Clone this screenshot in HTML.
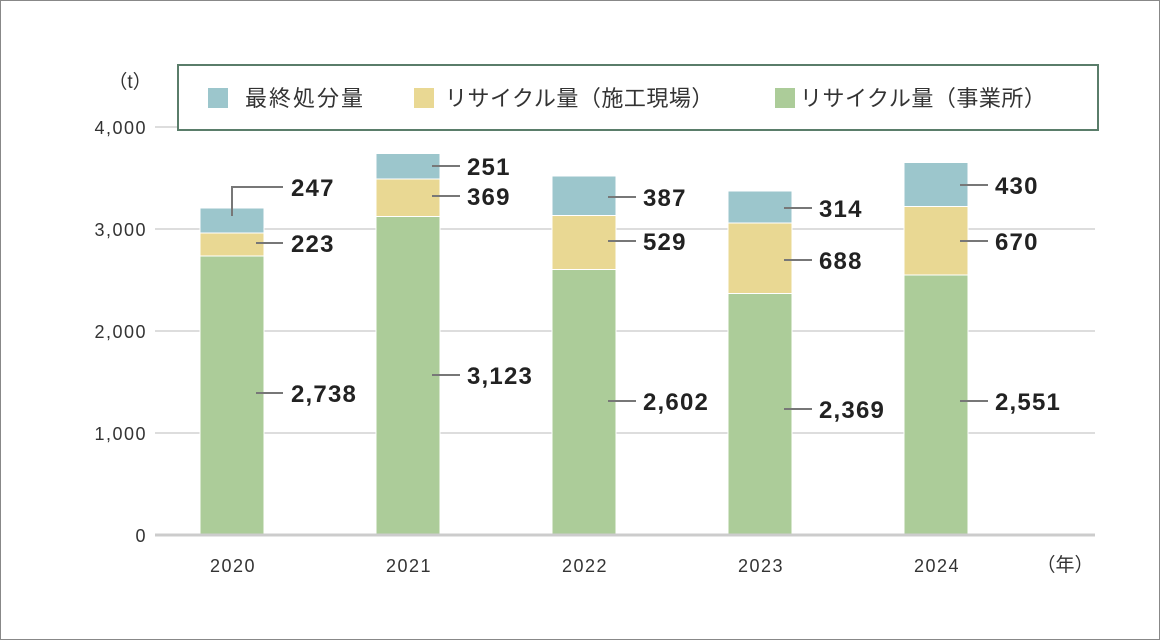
<!DOCTYPE html>
<html><head><meta charset="utf-8"><style>
body{margin:0;background:#fff}
svg{display:block}
text{font-family:"Liberation Sans","Noto Sans CJK JP",sans-serif}
</style></head><body>
<svg width="1160" height="640" xmlns="http://www.w3.org/2000/svg">
<rect x="0.5" y="0.5" width="1159" height="639" fill="#fff" stroke="#888"/>
<g stroke="#ddd" stroke-width="2">
<line x1="155" x2="1095" y1="127" y2="127"/>
<line x1="155" x2="1095" y1="229" y2="229"/>
<line x1="155" x2="1095" y1="331" y2="331"/>
<line x1="155" x2="1095" y1="433" y2="433"/>
</g>
<g font-size="18" fill="#333" text-anchor="end" letter-spacing="1.5">
<text x="147" y="134">4,000</text>
<text x="147" y="236">3,000</text>
<text x="147" y="338">2,000</text>
<text x="147" y="440">1,000</text>
<text x="147" y="542">0</text>
</g>
<text x="130" y="88" font-size="19" fill="#333" text-anchor="middle">（t）</text>
<rect x="178" y="65" width="920" height="65" fill="#fff" stroke="#5a7d6a" stroke-width="2"/>
<rect x="208" y="88" width="20" height="20" fill="#9cc6cc"/>
<text x="245" y="106" font-size="22" fill="#333" letter-spacing="2">最終処分量</text>
<rect x="414" y="88" width="20" height="20" fill="#e9d893"/>
<text x="445" y="106" font-size="22" fill="#333" letter-spacing="0.5">リサイクル量（施工現場）</text>
<rect x="775" y="88" width="20" height="20" fill="#accc99"/>
<text x="800" y="106" font-size="22" fill="#333" letter-spacing="0.5">リサイクル量（事業所）</text>
<g stroke="#fff" stroke-width="1">
<rect x="200" y="256" width="64" height="279" fill="#accc99"/>
<rect x="200" y="233" width="64" height="23" fill="#e9d893"/>
<rect x="200" y="208" width="64" height="25" fill="#9cc6cc"/>
<rect x="376" y="216.5" width="64" height="318.5" fill="#accc99"/>
<rect x="376" y="179" width="64" height="37.5" fill="#e9d893"/>
<rect x="376" y="153.5" width="64" height="25.5" fill="#9cc6cc"/>
<rect x="552" y="269.5" width="64" height="265.5" fill="#accc99"/>
<rect x="552" y="215.5" width="64" height="54" fill="#e9d893"/>
<rect x="552" y="176" width="64" height="39.5" fill="#9cc6cc"/>
<rect x="728" y="293.5" width="64" height="241.5" fill="#accc99"/>
<rect x="728" y="223" width="64" height="70.5" fill="#e9d893"/>
<rect x="728" y="191" width="64" height="32" fill="#9cc6cc"/>
<rect x="904" y="275" width="64" height="260" fill="#accc99"/>
<rect x="904" y="206.5" width="64" height="68.5" fill="#e9d893"/>
<rect x="904" y="162.5" width="64" height="44" fill="#9cc6cc"/>
</g>
<line x1="155" x2="1095" y1="535" y2="535" stroke="#ccc" stroke-width="3"/>
<g stroke="#777" stroke-width="2" fill="none">
<polyline points="232,216 232,187 283,187"/>
<line x1="256" x2="283" y1="243" y2="243"/>
<line x1="256" x2="283" y1="393" y2="393"/>
<line x1="432" x2="460" y1="166" y2="166"/>
<line x1="432" x2="460" y1="196" y2="196"/>
<line x1="432" x2="460" y1="375" y2="375"/>
<line x1="608" x2="636" y1="197" y2="197"/>
<line x1="608" x2="636" y1="241" y2="241"/>
<line x1="608" x2="636" y1="401" y2="401"/>
<line x1="784" x2="812" y1="208" y2="208"/>
<line x1="784" x2="812" y1="260" y2="260"/>
<line x1="784" x2="812" y1="409" y2="409"/>
<line x1="960" x2="988" y1="185" y2="185"/>
<line x1="960" x2="988" y1="241" y2="241"/>
<line x1="960" x2="988" y1="401" y2="401"/>
</g>
<g font-size="24" font-weight="bold" fill="#222" letter-spacing="1.2">
<text x="291" y="196">247</text>
<text x="291" y="252">223</text>
<text x="291" y="402">2,738</text>
<text x="467" y="175">251</text>
<text x="467" y="205">369</text>
<text x="467" y="384">3,123</text>
<text x="643" y="206">387</text>
<text x="643" y="250">529</text>
<text x="643" y="410">2,602</text>
<text x="819" y="217">314</text>
<text x="819" y="269">688</text>
<text x="819" y="418">2,369</text>
<text x="995" y="194">430</text>
<text x="995" y="250">670</text>
<text x="995" y="410">2,551</text>
</g>
<g font-size="18" fill="#333" text-anchor="middle" letter-spacing="1.5">
<text x="233" y="572">2020</text>
<text x="409" y="572">2021</text>
<text x="585" y="572">2022</text>
<text x="761" y="572">2023</text>
<text x="937" y="572">2024</text>
</g>
<text x="1065" y="571" font-size="19" fill="#333" text-anchor="middle">（年）</text>
</svg>
</body></html>
